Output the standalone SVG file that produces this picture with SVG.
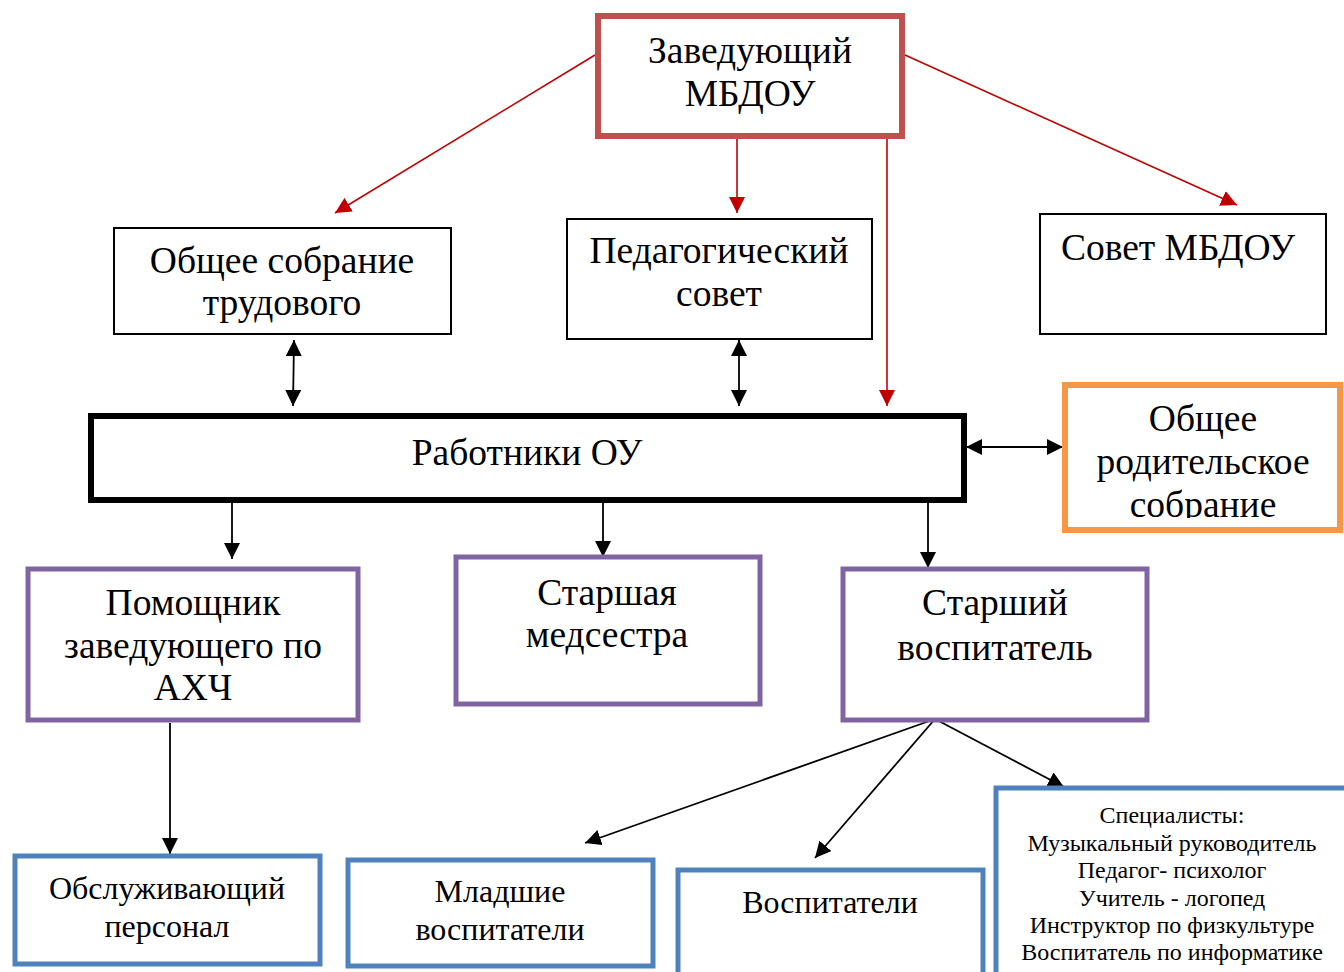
<svg xmlns="http://www.w3.org/2000/svg" width="1344" height="972" viewBox="0 0 1344 972">
<defs>
<style>
text{font-family:"Liberation Serif","Times New Roman",serif;fill:#000;text-anchor:middle}
.t36{font-size:37.5px}
.t30{font-size:32px}
.t22{font-size:24px}
.box{fill:#fff}
.red{stroke:#C0504D;stroke-width:6}
.thin{stroke:#000;stroke-width:2}
.thick{stroke:#000;stroke-width:6}
.orange{stroke:#F79646;stroke-width:6}
.purple{stroke:#8064A2;stroke-width:5}
.blue{stroke:#4F81BD;stroke-width:5}
.rl{stroke:#C00000;stroke-width:1.6;fill:none}
.bl{stroke:#000;stroke-width:1.8;fill:none}
</style>
<marker id="ar" markerUnits="userSpaceOnUse" markerWidth="16" markerHeight="16" refX="16" refY="8" orient="auto-start-reverse" viewBox="0 0 16 16">
<path d="M0,0 L16,8 L0,16 z" fill="#C00000"/>
</marker>
<marker id="ab" markerUnits="userSpaceOnUse" markerWidth="16" markerHeight="16" refX="16" refY="8" orient="auto-start-reverse" viewBox="0 0 16 16">
<path d="M0,0 L16,8 L0,16 z" fill="#000"/>
</marker>
<clipPath id="oclip"><rect x="1068" y="388" width="270" height="130"/></clipPath>
</defs>
<rect width="1344" height="972" fill="#fff"/>

<g id="connectors">
<line class="rl" x1="595" y1="55" x2="335" y2="213" marker-end="url(#ar)"/>
<line class="rl" x1="737" y1="139" x2="737" y2="213" marker-end="url(#ar)"/>
<line class="rl" x1="887" y1="139" x2="887" y2="406" marker-end="url(#ar)"/>
<line class="rl" x1="905" y1="55" x2="1237" y2="205" marker-end="url(#ar)"/>
<line class="bl" x1="294" y1="340" x2="293" y2="406" marker-start="url(#ab)" marker-end="url(#ab)"/>
<line class="bl" x1="739" y1="340" x2="739" y2="406" marker-start="url(#ab)" marker-end="url(#ab)"/>
<line class="bl" x1="966" y1="447" x2="1063" y2="447" marker-start="url(#ab)" marker-end="url(#ab)"/>
<line class="bl" x1="232" y1="503" x2="232" y2="559" marker-end="url(#ab)"/>
<line class="bl" x1="603" y1="503" x2="603" y2="557" marker-end="url(#ab)"/>
<line class="bl" x1="928" y1="503" x2="928" y2="568" marker-end="url(#ab)"/>
<line class="bl" x1="170" y1="723" x2="170" y2="854" marker-end="url(#ab)"/>
<line class="bl" x1="935" y1="719" x2="585" y2="843" marker-end="url(#ab)"/>
<line class="bl" x1="935" y1="719" x2="815" y2="858" marker-end="url(#ab)"/>
<line class="bl" x1="935" y1="719" x2="1064" y2="787" marker-end="url(#ab)"/>
</g>

<g id="zaveduyushchiy">
<rect class="box red" x="598" y="16" width="304" height="120"/>
<text class="t36" x="750" y="63">Заведующий</text>
<text class="t36" x="750" y="106">МБДОУ</text>
</g>

<g id="obshchee-sobranie">
<rect class="box thin" x="114" y="228" width="337" height="106"/>
<text class="t36" x="282" y="273">Общее собрание</text>
<text class="t36" x="282" y="315">трудового</text>
</g>

<g id="ped-sovet">
<rect class="box thin" x="567" y="219" width="305" height="120"/>
<text class="t36" x="719" y="263">Педагогический</text>
<text class="t36" x="719" y="306">совет</text>
</g>

<g id="sovet-mbdou">
<rect class="box thin" x="1040" y="214" width="286" height="120"/>
<text class="t36" x="1178" y="260">Совет МБДОУ</text>
</g>

<g id="rabotniki">
<rect class="box thick" x="91" y="416" width="873" height="84"/>
<text class="t36" x="527" y="465">Работники ОУ</text>
</g>

<g id="roditelskoe">
<rect class="box orange" x="1065" y="385" width="275" height="145"/>
<g clip-path="url(#oclip)">
<text class="t36" x="1203" y="431">Общее</text>
<text class="t36" x="1203" y="474">родительское</text>
<text class="t36" x="1203" y="517">собрание</text>
</g>
</g>

<g id="pomoshchnik">
<rect class="box purple" x="28" y="569" width="330" height="151"/>
<text class="t36" x="193" y="615">Помощник</text>
<text class="t36" x="193" y="658">заведующего по</text>
<text class="t36" x="193" y="700">АХЧ</text>
</g>

<g id="medsestra">
<rect class="box purple" x="456" y="557" width="304" height="147"/>
<text class="t36" x="607" y="605">Старшая</text>
<text class="t36" x="607" y="647">медсестра</text>
</g>

<g id="starshiy-vospitatel">
<rect class="box purple" x="843" y="569" width="304" height="151"/>
<text class="t36" x="995" y="615">Старший</text>
<text class="t36" x="995" y="660">воспитатель</text>
</g>

<g id="obsluzhivayushchiy">
<rect class="box blue" x="15" y="856" width="305" height="108"/>
<text class="t30" x="167" y="899">Обслуживающий</text>
<text class="t30" x="167" y="937">персонал</text>
</g>

<g id="mladshie">
<rect class="box blue" x="348" y="860" width="305" height="106"/>
<text class="t30" x="500" y="902">Младшие</text>
<text class="t30" x="500" y="940">воспитатели</text>
</g>

<g id="vospitateli">
<rect class="box blue" x="678" y="870" width="305" height="130"/>
<text class="t30" x="830" y="913">Воспитатели</text>
</g>

<g id="specialisty">
<rect class="box blue" x="996" y="788" width="360" height="210"/>
<text class="t22" x="1172" y="823">Специалисты:</text>
<text class="t22" x="1172" y="851">Музыкальный руководитель</text>
<text class="t22" x="1172" y="878">Педагог- психолог</text>
<text class="t22" x="1172" y="906">Учитель - логопед</text>
<text class="t22" x="1172" y="933">Инструктор по физкультуре</text>
<text class="t22" x="1172" y="960">Воспитатель по информатике</text>
</g>
</svg>
